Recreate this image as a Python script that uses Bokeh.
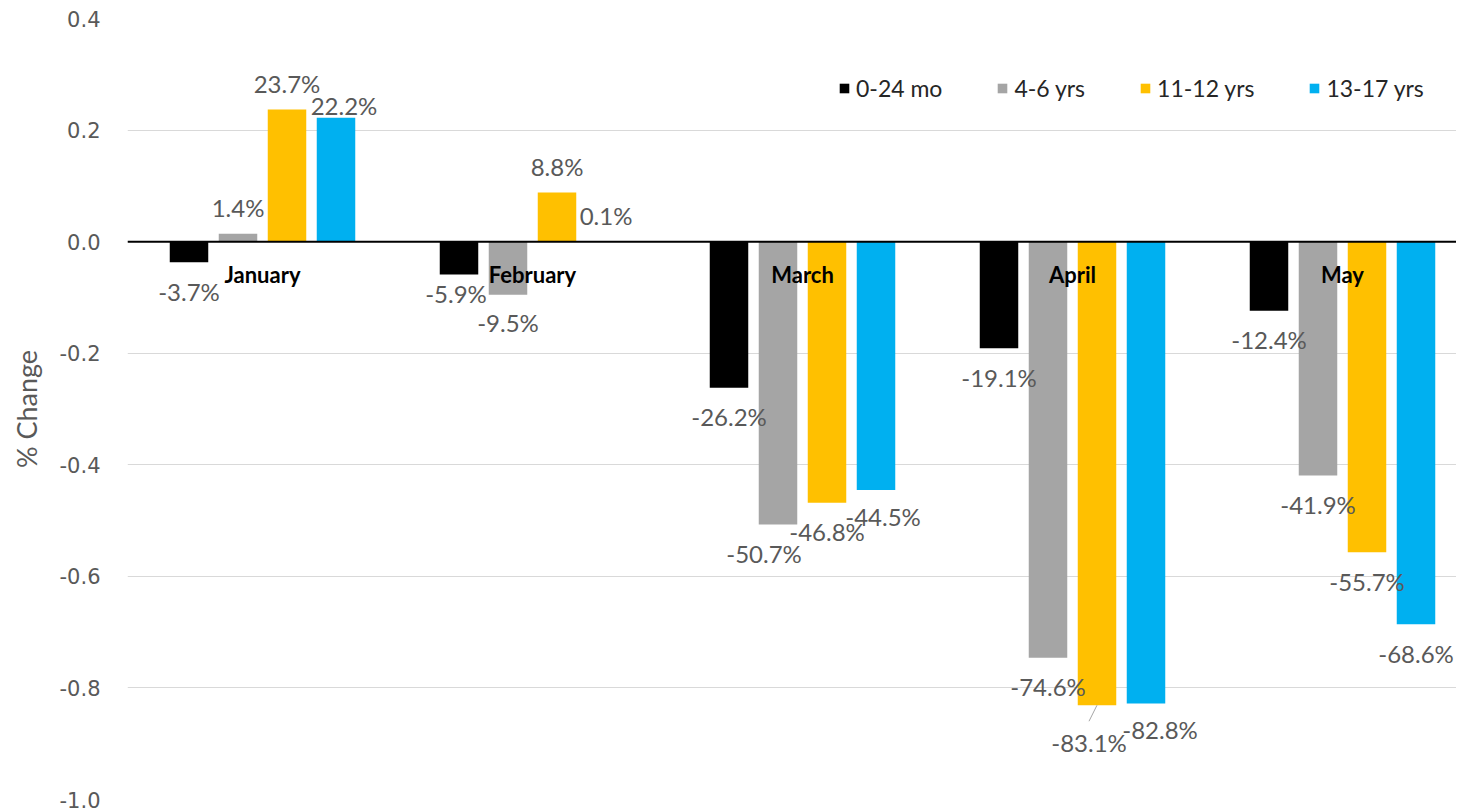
import numpy as np
from bokeh.plotting import figure
from bokeh.models import ColumnDataSource, Range1d, Span, FixedTicker, NumeralTickFormatter
from bokeh.core.properties import value
from bokeh.embed import file_html
from bokeh.resources import INLINE

# ---- data ----
months = ["January", "February", "March", "April", "May"]
series = ["0-24 mo", "4-6 yrs", "11-12 yrs", "13-17 yrs"]
v_0_24mo = [-0.037, -0.059, -0.262, -0.191, -0.124]
v_4_6yrs = [0.014, -0.095, -0.507, -0.746, -0.419]
v_11_12yrs = [0.237, 0.088, -0.468, -0.831, -0.557]
v_13_17yrs = [0.222, 0.001, -0.445, -0.828, -0.686]
y_ticks = [-1.0, -0.8, -0.6, -0.4, -0.2, 0.0, 0.2, 0.4]

values = [v_0_24mo, v_4_6yrs, v_11_12yrs, v_13_17yrs]

# ---- style / layout ----
colors = ["#000000", "#A5A5A5", "#FFC000", "#00B0F0"]
pitch = 49 / 270.0
bar_w = 38.5 / 270.0
label_color = "#595959"
FONT = "Lato"

W, H = 1456, 812
BL, BR, BT, BB = 127, 0, 18, 13
x_end = (W - BL - BR) / 270.0

# label nudges in screen pixels (dx, dy; dy downward) for labels moved by hand
nudges = {
    (0, 3): (8, -12),
    (1, 0): (-3, 19),
    (1, 1): (0, 28),
    (2, 1): (-14, 29),
    (2, 3): (7, 27),
    (3, 2): (-8, 37),
    (3, 3): (14, 26),
}

p = figure(width=W, height=H,
           x_range=Range1d(0, x_end), y_range=Range1d(-1.0, 0.4),
           min_border_left=BL, min_border_right=BR, min_border_top=BT, min_border_bottom=BB,
           x_axis_type=None, output_backend="svg", toolbar_location=None)
p.outline_line_color = None
p.background_fill_color = "white"
p.border_fill_color = "white"

p.ygrid.ticker = FixedTicker(ticks=y_ticks)
p.ygrid.grid_line_color = "#d9d9d9"
p.ygrid.grid_line_width = 1

ax = p.yaxis[0]
ax.ticker = FixedTicker(ticks=y_ticks)
ax.formatter = NumeralTickFormatter(format="0.0")
ax.axis_line_color = None
ax.major_tick_line_color = None
ax.minor_tick_line_color = None
ax.major_tick_out = 0
ax.major_tick_in = 0
ax.major_label_standoff = 27
ax.major_label_text_font = "DejaVu Sans"
ax.major_label_text_font_size = "21px"
ax.major_label_text_color = label_color
ax.axis_label = "% Change"
ax.axis_label_text_font = FONT
ax.axis_label_text_font_style = "normal"
ax.axis_label_text_font_size = "27px"
ax.axis_label_text_color = label_color
ax.axis_label_standoff = 14

centers = np.arange(len(months)) + 0.5

lab_x, lab_y, lab_t, lab_dx, lab_dy = [], [], [], [], []
for j, (name, vals) in enumerate(zip(series, values)):
    xs = centers + (j - 1.5) * pitch
    src = ColumnDataSource(dict(x=xs, top=vals))
    p.vbar(x="x", top="top", bottom=0, width=bar_w, source=src,
           fill_color=colors[j], line_color=None, legend_label=name)
    for i, v in enumerate(vals):
        dx, dy = nudges.get((i, j), (0, 29 if v < 0 else -26))
        lab_x.append(xs[i]); lab_y.append(v)
        lab_t.append(f"{v*100:.1f}%")
        lab_dx.append(dx); lab_dy.append(dy)

p.add_layout(Span(location=0, dimension="width", line_color="black", line_width=2))

lsrc = ColumnDataSource(dict(x=lab_x, y=lab_y, t=lab_t, dx=lab_dx, dy=lab_dy))
p.text(x="x", y="y", text="t", x_offset="dx", y_offset="dy", source=lsrc,
       text_font=value(FONT), text_font_size="24px", text_color=label_color,
       text_align="center", text_baseline="middle")

# leader line for April 11-12 yrs label
ai, aj = 3, 2
xc = centers[ai] + (aj - 1.5) * pitch
vv = values[aj][ai]
p.segment(x0=[xc], y0=[vv], x1=[xc - 8 / 270.0], y1=[vv - 16 / 557.0],
          line_color="#a6a6a6", line_width=1)

csrc = ColumnDataSource(dict(x=centers, y=[0] * len(months), t=months))
p.text(x="x", y="y", text="t", y_offset=33, source=csrc,
       text_font=value(FONT), text_font_style="bold", text_font_size="22px",
       text_color="#000000", text_align="center", text_baseline="middle")

lg = p.legend[0]
lg.orientation = "horizontal"
lg.location = (711, 697)
lg.margin = 0
lg.padding = 0
lg.spacing = 54
lg.glyph_width = 12
lg.glyph_height = 12
lg.label_standoff = 6
lg.label_height = 26
lg.label_text_font = FONT
lg.label_text_font_size = "23px"
lg.label_text_color = "#262626"
lg.border_line_color = None
lg.background_fill_alpha = 0

open("out.html", "w").write(file_html(p, INLINE))
